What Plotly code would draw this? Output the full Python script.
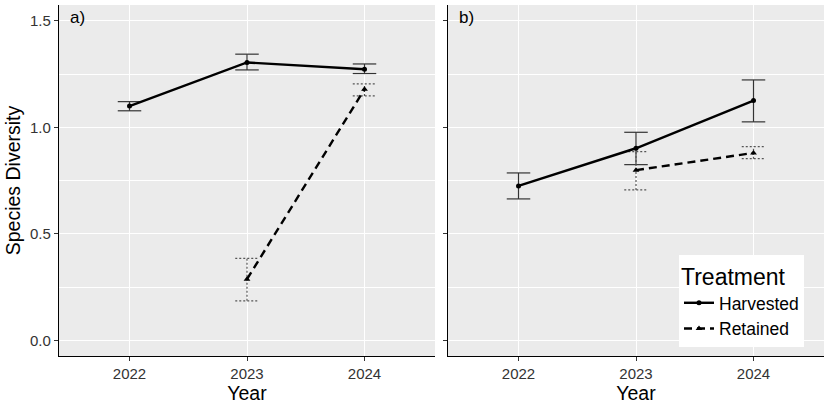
import plotly.graph_objects as go

years = [2022, 2023, 2024]

# Panel a)
a_harv_years = [2022, 2023, 2024]
a_harv_mean = [1.10, 1.305, 1.273]
a_harv_lo = [1.078, 1.270, 1.253]
a_harv_hi = [1.121, 1.344, 1.298]

a_ret_years = [2023, 2024]
a_ret_mean = [0.287, 1.179]
a_ret_lo = [0.185, 1.148]
a_ret_hi = [0.385, 1.204]

# Panel b)
b_harv_years = [2022, 2023, 2024]
b_harv_mean = [0.725, 0.902, 1.126]
b_harv_lo = [0.664, 0.825, 1.026]
b_harv_hi = [0.786, 0.977, 1.223]

b_ret_years = [2023, 2024]
b_ret_mean = [0.799, 0.880]
b_ret_lo = [0.706, 0.853]
b_ret_hi = [0.886, 0.910]

panel_labels = ["a)", "b)"]
y_ticks = [0.0, 0.5, 1.0, 1.5]
cap = 0.1

FONT = "Arial, Liberation Sans, sans-serif"


def errbar_xy(xs, lo, hi):
    ex, ey = [], []
    for x, l, h in zip(xs, lo, hi):
        ex += [x, x, None, x - cap, x + cap, None, x - cap, x + cap, None]
        ey += [l, h, None, l, l, None, h, h, None]
    return ex, ey


fig = go.Figure()

panels = [
    ("x", "y", a_harv_years, a_harv_mean, a_harv_lo, a_harv_hi,
     a_ret_years, a_ret_mean, a_ret_lo, a_ret_hi, True),
    ("x2", "y2", b_harv_years, b_harv_mean, b_harv_lo, b_harv_hi,
     b_ret_years, b_ret_mean, b_ret_lo, b_ret_hi, False),
]

for xa, ya, hy, hm, hl, hh, ry, rm, rl, rh, show in panels:
    ex, ey = errbar_xy(hy, hl, hh)
    fig.add_trace(go.Scatter(x=ex, y=ey, mode="lines", xaxis=xa, yaxis=ya,
                             line=dict(color="#333333", width=1.2),
                             showlegend=False, hoverinfo="skip"))
    ex, ey = errbar_xy(ry, rl, rh)
    fig.add_trace(go.Scatter(x=ex, y=ey, mode="lines", xaxis=xa, yaxis=ya,
                             line=dict(color="#555555", width=1.2, dash="2px,2px"),
                             showlegend=False, hoverinfo="skip"))
    fig.add_trace(go.Scatter(x=hy, y=hm, mode="lines+markers", xaxis=xa, yaxis=ya,
                             name="Harvested", legendgroup="H", showlegend=show,
                             line=dict(color="black", width=2.4),
                             marker=dict(symbol="circle", size=5, color="black")))
    fig.add_trace(go.Scatter(x=ry, y=rm, mode="lines+markers", xaxis=xa, yaxis=ya,
                             name="Retained", legendgroup="R", showlegend=show,
                             line=dict(color="black", width=2.4, dash="8px,5px"),
                             marker=dict(symbol="triangle-up", size=6, color="black")))

xcommon = dict(range=[2021.4, 2024.6], tickvals=years, ticktext=[str(y) for y in years],
               showgrid=True, gridcolor="white", gridwidth=1.2, zeroline=False,
               showline=True, linecolor="black", linewidth=1.2,
               ticks="outside", ticklen=4, tickcolor="#333333", automargin=False,
               tickfont=dict(family=FONT, size=15, color="#333333"),
               title=dict(text="Year", font=dict(family=FONT, size=19.5, color="black"), standoff=4))
ycommon = dict(range=[-0.074, 1.575], tickvals=y_ticks,
               showgrid=True, gridcolor="white", gridwidth=1.2, zeroline=False,
               showline=True, linecolor="black", linewidth=1.2,
               ticks="outside", ticklen=4, tickcolor="#333333", automargin=False,
               minor=dict(dtick=0.25, tick0=0, showgrid=True, gridcolor="white", gridwidth=0.6, ticks=""),
               tickfont=dict(family=FONT, size=15, color="#333333"))

d1 = (435 - 59) / 765
d2 = (448 - 59) / 765

fig.update_layout(
    width=827, height=406,
    margin=dict(l=59, r=3, t=5, b=50),
    paper_bgcolor="white", plot_bgcolor="#EBEBEB",
    font=dict(family=FONT, color="black"),
    xaxis=dict(domain=[0, d1], anchor="y", **xcommon),
    xaxis2=dict(domain=[d2, 1], anchor="y2", **xcommon),
    yaxis=dict(domain=[0, 1], anchor="x", tickformat=".1f",
               title=dict(text="Species Diversity", font=dict(family=FONT, size=19.5, color="black"), standoff=4),
               **ycommon),
    yaxis2=dict(domain=[0, 1], anchor="x2", showticklabels=False, **ycommon),
    legend=dict(x=(679 - 59) / 765, y=(356 - 255) / 351, xanchor="left", yanchor="top",
                bgcolor="white", borderwidth=0,
                title=dict(text="Treatment", font=dict(family=FONT, size=23, color="black")),
                font=dict(family=FONT, size=17.5, color="black"),
                tracegroupgap=0, itemwidth=30),
    showlegend=True,
)

for i, lab in enumerate(panel_labels):
    xr = "x domain" if i == 0 else "x2 domain"
    fig.add_annotation(text=lab, xref=xr, yref="y domain", x=0.025, y=0.998,
                       xanchor="left", yanchor="top", showarrow=False,
                       font=dict(family=FONT, size=17, color="black"))

fig.write_html("out.html", config={"displayModeBar": False},
               post_script="document.body.style.margin='0';")
